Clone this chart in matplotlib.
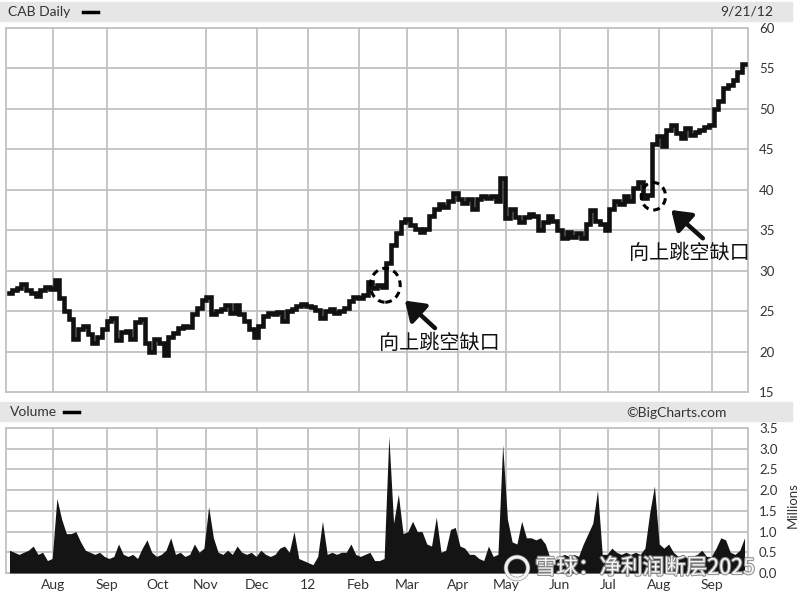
import numpy as np
import pandas as pd
import matplotlib
matplotlib.use("Agg")
import matplotlib.pyplot as plt
from matplotlib.patches import Rectangle, Ellipse, FancyArrowPatch
import matplotlib.patheffects as pe

plt.rcParams["font.family"] = ["Lato", "DejaVu Sans"]

# trading days covered by the chart
days = pd.bdate_range("2011-07-05", "2012-09-21")
month_labels = ["Aug", "Sep", "Oct", "Nov", "Dec", "12", "Feb",
                "Mar", "Apr", "May", "Jun", "Jul", "Aug", "Sep"]

# closing price, read roughly every second trading day
close = [
    27.2, 27.6, 27.9, 28.4, 27.6, 27.3, 26.9, 27.6, 28.0, 27.7,
    28.8, 26.6, 25.0, 24.0, 21.6, 22.8, 23.2, 22.2, 21.0, 21.8,
    22.8, 23.8, 24.2, 21.4, 22.4, 22.6, 21.5, 23.6, 24.0, 21.0,
    19.9, 21.5, 21.0, 19.6, 21.8, 22.3, 22.9, 23.2, 23.0, 24.6,
    25.4, 26.4, 26.8, 24.6, 25.0, 25.2, 25.8, 24.8, 25.8, 24.6,
    23.8, 22.8, 21.8, 23.2, 24.4, 24.8, 24.6, 24.9, 23.8, 25.0,
    25.3, 25.6, 25.9, 25.6, 25.5, 25.1, 24.2, 25.0, 25.2, 24.8,
    25.0, 25.4, 26.3, 26.8, 26.6, 27.0, 28.6, 27.8, 28.2, 28.0,
    31.0, 33.2, 34.6, 36.0, 36.4, 35.6, 35.2, 34.8, 35.2, 36.8,
    37.6, 38.2, 37.9, 38.6, 39.6, 38.8, 38.4, 38.8, 37.6, 38.8,
    39.2, 39.0, 39.2, 38.6, 41.5, 36.5, 37.6, 36.6, 36.0, 36.6,
    37.0, 36.8, 35.0, 36.0, 36.8, 36.2, 35.0, 34.0, 34.8, 34.2,
    34.6, 34.0, 35.8, 37.5, 36.2, 35.8, 35.0, 37.6, 38.6, 38.2,
    39.2, 38.6, 40.2, 41.0, 39.0, 39.4, 45.6, 46.6, 45.4, 47.4,
    48.0, 47.0, 46.4, 47.6, 46.8, 47.2, 47.4, 47.8, 48.0, 50.0,
    51.0, 52.6, 53.0, 53.6, 54.6, 55.5,
]

# volume in millions, same sampling
volume = [
    0.55, 0.50, 0.45, 0.50, 0.55, 0.65, 0.45, 0.50, 0.30, 0.35,
    1.80, 1.30, 0.95, 0.95, 1.00, 0.75, 0.55, 0.50, 0.45, 0.50,
    0.40, 0.35, 0.40, 0.70, 0.45, 0.40, 0.45, 0.35, 0.60, 0.80,
    0.50, 0.40, 0.45, 0.55, 0.85, 0.45, 0.50, 0.40, 0.45, 0.70,
    0.50, 0.60, 1.60, 0.85, 0.50, 0.45, 0.55, 0.45, 0.65, 0.50,
    0.45, 0.50, 0.40, 0.55, 0.45, 0.40, 0.45, 0.60, 0.65, 0.50,
    1.00, 0.35, 0.30, 0.25, 0.20, 0.40, 1.25, 0.45, 0.50, 0.45,
    0.50, 0.50, 0.70, 0.45, 0.40, 0.45, 0.50, 0.30, 0.30, 0.35,
    3.30, 1.20, 1.90, 0.95, 1.00, 1.25, 1.00, 1.00, 0.70, 0.65,
    1.35, 0.50, 0.55, 1.05, 1.10, 0.65, 0.60, 0.45, 0.45, 0.35,
    0.30, 0.65, 0.40, 0.45, 3.10, 1.30, 0.75, 0.70, 1.25, 0.85,
    0.85, 0.80, 0.85, 0.70, 0.35, 0.30, 0.40, 0.45, 0.40, 0.45,
    0.40, 0.70, 0.95, 1.20, 2.00, 0.45, 0.45, 0.60, 0.50, 0.45,
    0.50, 0.45, 0.50, 0.45, 0.60, 1.45, 2.10, 0.70, 0.60, 0.70,
    0.50, 0.40, 0.45, 0.35, 0.40, 0.45, 0.55, 0.40, 0.40, 0.60,
    0.85, 0.80, 0.50, 0.45, 0.55, 0.85,
]

gap_idx = [79, 135]
gap_text = "向上跳空缺口"

W, H = 800, 596
GRID = "#c2c2c2"
TXT = "#333333"


def fx(px):
    return px / W


def fy(py):
    return 1 - py / H


n = len(days)
x = np.linspace(0, n - 1, len(close))
month_pos = [i for i in range(1, n) if days[i].month != days[i - 1].month]

fig = plt.figure(figsize=(8, 5.96), dpi=100)

# header bars
for top in (2, 402):
    fig.patches.append(Rectangle((0, fy(top + 19)), fx(792), 19 / H,
                                 transform=fig.transFigure, color="#e6e6e6", zorder=0))
fig.text(fx(8), fy(12), "CAB Daily", fontsize=10, color=TXT, va="center")
fig.lines.append(plt.Line2D([fx(83), fx(98)], [fy(12), fy(12)],
                            transform=fig.transFigure, color="black", lw=2.5))
fig.text(fx(773), fy(12), "9/21/12", fontsize=10, color=TXT, va="center", ha="right")
fig.text(fx(10), fy(412), "Volume", fontsize=10, color=TXT, va="center")
fig.lines.append(plt.Line2D([fx(64), fx(79)], [fy(412), fy(412)],
                            transform=fig.transFigure, color="black", lw=2.5))
fig.text(fx(727), fy(413), "©BigCharts.com", fontsize=10, color=TXT, va="center", ha="right")

# price panel
ax = fig.add_axes([fx(6), fy(392), fx(742), 364 / H])
ax.set_xlim(-1.5, n + 0.5)
ax.set_ylim(15, 60)
for yv in range(20, 60, 5):
    ax.axhline(yv, color=GRID, lw=1.3, zorder=0)
for pos, lab in zip(month_pos, month_labels):
    if lab != "Oct":
        ax.axvline(pos, color=GRID, lw=1.3, zorder=0)
ax.plot(x, close, color="#111111", lw=3.3, drawstyle="steps-mid",
        solid_joinstyle="miter", zorder=3)
ax.set_xticks([])
ax.set_yticks(range(15, 61, 5))
ax.yaxis.tick_right()
ax.tick_params(axis="y", length=0, pad=8, labelsize=9.5, labelcolor=TXT)
for s in ax.spines.values():
    s.set_color(GRID)
    s.set_linewidth(1.3)

# gap markers and notes: ellipse (dx, dy, w, h), arrow head, arrow tail, label offsets
cjk = ["Noto Sans CJK SC", "DejaVu Sans"]
marks = [
    ((0.5, 0.2, 12.9, 4.2), (9.0, -1.7), (22.0, -5.1), (24.0, -7.0)),
    ((1.6, -0.2, 10.5, 3.4), (9.3, -1.9), (23.0, -5.4), (17.0, -7.3)),
]
for gi, (ell, head, tail, lab) in zip(gap_idx, marks):
    cx, cy = x[gi], close[gi]
    ax.add_patch(Ellipse((cx + ell[0], cy + ell[1]), ell[2], ell[3], fill=False,
                         ec="black", lw=2.2, ls=(0, (2.2, 1.6)), zorder=4))
    ax.add_patch(FancyArrowPatch((cx + tail[0], cy + tail[1]), (cx + head[0], cy + head[1]),
                                 arrowstyle="-|>,head_length=0.8,head_width=0.55",
                                 mutation_scale=14, color="#111111", lw=3.2,
                                 shrinkA=0, shrinkB=0, zorder=4))
    ax.text(cx + lab[0], cy + lab[1], gap_text, fontsize=14.5, family=cjk, color="#111111",
            ha="center", va="center", zorder=4)

# volume panel
av = fig.add_axes([fx(6), fy(573), fx(742), 145 / H])
av.set_xlim(-1.5, n + 0.5)
av.set_ylim(0, 3.5)
for yv in np.arange(0.5, 3.5, 0.5):
    av.axhline(yv, color=GRID, lw=1.3, zorder=0)
for pos in month_pos:
    av.axvline(pos, color=GRID, lw=1.3, zorder=0)
av.fill_between(x, 0, volume, color="#141414", lw=0, zorder=3)
av.set_xticks(month_pos)
av.set_xticklabels(month_labels)
av.set_yticks(np.arange(0, 3.51, 0.5))
av.set_yticklabels([f"{v:.1f}" for v in np.arange(0, 3.51, 0.5)])
av.yaxis.tick_right()
av.tick_params(axis="y", length=0, pad=8, labelsize=9.5, labelcolor=TXT)
av.tick_params(axis="x", length=0, pad=4, labelsize=10, labelcolor=TXT)
for s in av.spines.values():
    s.set_color(GRID)
    s.set_linewidth(1.3)
fig.text(fx(793), fy(505), "Millions", rotation=90, fontsize=9.5, color=TXT,
         ha="center", va="center")

# watermark
fig.patches.append(Ellipse((fx(517), fy(568)), 22 / W, 22 / H, transform=fig.transFigure,
                           fill=False, ec="white", lw=2.2, alpha=0.9, zorder=10,
                           path_effects=[pe.withStroke(linewidth=3.2, foreground="#8a8a8a")]))
fig.text(fx(535), fy(568), "雪球：净利润断层2025", fontsize=15.5, family=cjk, color="white",
         alpha=0.92, va="center", ha="left", zorder=10,
         path_effects=[pe.withStroke(linewidth=1.6, foreground="#8a8a8a")])

fig.savefig("out.png", dpi=100, facecolor="white")
